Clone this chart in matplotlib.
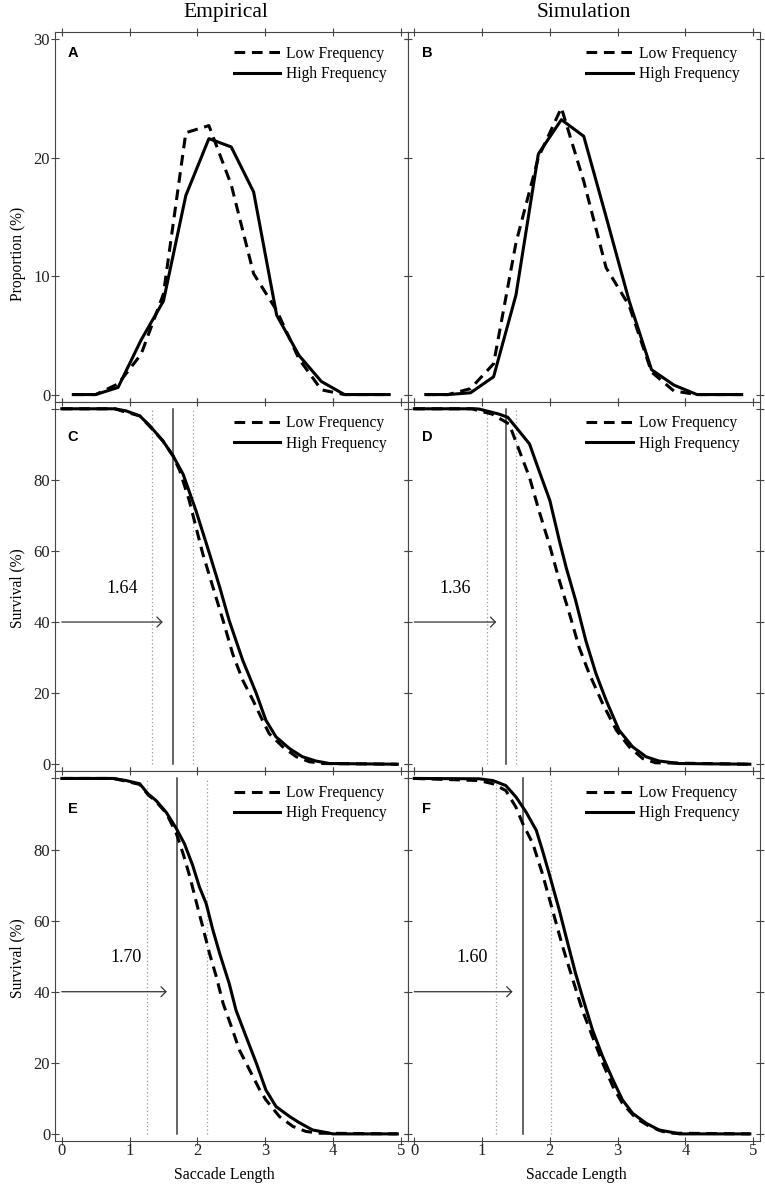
import matplotlib
matplotlib.use("Agg")
import matplotlib.pyplot as plt

plt.rcParams['font.family'] = 'Liberation Serif'

# --- distributions (panels A, B) ---
bins = [0.17, 0.5, 0.83, 1.17, 1.5, 1.83, 2.17, 2.5, 2.83, 3.17, 3.5, 3.83, 4.17, 4.5, 4.83]
emp_low = [0, 0, 0.9, 3.4, 8.5, 22.1, 22.7, 17.7, 10.2, 7.1, 3.0, 0.4, 0, 0, 0]
emp_high = [0, 0, 0.6, 4.6, 7.9, 16.8, 21.6, 20.9, 17.1, 6.7, 3.3, 1.1, 0, 0, 0]
sim_low = [0, 0, 0.5, 2.6, 12.8, 20.0, 24.2, 18.0, 10.7, 7.5, 1.9, 0.3, 0, 0, 0]
sim_high = [0, 0, 0.15, 1.5, 8.4, 20.3, 23.2, 21.8, 15.0, 7.9, 2.1, 0.8, 0, 0, 0]

# --- survival curves (panels C-F) ---
c_high_x = [0, 0.78, 0.95, 1.15, 1.30, 1.49, 1.64, 1.79, 1.98, 2.18, 2.33, 2.47, 2.67, 2.87, 3.01, 3.16, 3.36, 3.55, 3.75, 3.95, 4.95]
c_high_y = [100, 100, 99.4, 98.0, 95.2, 91.0, 86.8, 81.6, 71.3, 59.2, 49.8, 40.4, 29.2, 19.9, 12.4, 7.7, 4.4, 2.1, 0.9, 0.2, 0]
c_low_x = [0, 0.78, 0.92, 1.15, 1.30, 1.49, 1.64, 1.74, 1.88, 1.98, 2.08, 2.23, 2.38, 2.52, 2.67, 2.82, 2.96, 3.06, 3.26, 3.46, 3.65, 3.85, 4.95]
c_low_y = [100, 100, 99.2, 98.0, 95.0, 91.0, 86.8, 82.6, 74.2, 66.7, 59.2, 49.8, 40.4, 31.1, 23.6, 18.0, 12.4, 8.6, 4.9, 2.1, 0.7, 0.2, 0]

d_high_x = [0, 0.9, 0.96, 1.25, 1.38, 1.5, 1.7, 1.84, 2.0, 2.14, 2.24, 2.38, 2.53, 2.68, 2.83, 3.02, 3.22, 3.42, 3.61, 3.91, 4.95]
d_high_y = [100, 100, 99.9, 98.5, 97.6, 94.8, 90.1, 82.6, 74.2, 62.9, 55.4, 46.1, 34.8, 25.5, 18.0, 9.6, 4.9, 2.1, 0.9, 0.2, 0]
d_low_x = [0, 0.85, 0.96, 1.15, 1.4, 1.55, 1.7, 1.84, 1.99, 2.14, 2.29, 2.43, 2.58, 2.78, 2.98, 3.17, 3.37, 3.56, 4.95]
d_low_y = [100, 100, 99.4, 98.5, 95.7, 88.2, 80.7, 71.3, 62.0, 51.7, 42.3, 33.0, 25.5, 17.0, 9.6, 4.9, 1.6, 0.4, 0]

e_high_x = [0, 0.76, 0.95, 1.15, 1.27, 1.39, 1.54, 1.69, 1.81, 1.93, 2.03, 2.13, 2.23, 2.33, 2.47, 2.57, 2.72, 2.87, 3.01, 3.16, 3.36, 3.5, 3.7, 3.9, 4.0, 4.95]
e_high_y = [100, 100, 99.4, 98.5, 95.7, 93.8, 90.5, 85.9, 81.6, 75.6, 69.5, 64.8, 57.3, 50.7, 42.3, 34.8, 27.3, 19.9, 12.4, 7.7, 4.9, 3.2, 1.1, 0.4, 0, 0]
e_low_x = [0, 0.76, 0.95, 1.15, 1.27, 1.39, 1.54, 1.69, 1.79, 1.89, 1.99, 2.08, 2.18, 2.28, 2.38, 2.52, 2.62, 2.77, 2.92, 3.01, 3.21, 3.41, 3.6, 3.8, 4.95]
e_low_y = [100, 100, 99.2, 98.3, 95.5, 93.5, 90.3, 84.5, 78.8, 72.3, 64.8, 58.2, 50.7, 44.2, 36.7, 29.2, 23.6, 18.0, 12.4, 9.6, 4.9, 2.1, 0.7, 0.2, 0]

f_high_x = [0, 0.96, 1.16, 1.35, 1.5, 1.65, 1.8, 1.89, 1.99, 2.14, 2.24, 2.38, 2.48, 2.63, 2.78, 2.93, 3.07, 3.22, 3.42, 3.61, 3.81, 3.91, 4.95]
f_high_y = [100, 99.9, 99.4, 98.0, 94.8, 90.5, 85.4, 79.8, 73.2, 62.9, 55.4, 45.1, 38.6, 29.2, 21.7, 15.2, 9.6, 5.8, 3.0, 1.1, 0.4, 0, 0]
f_low_x = [0, 0.96, 1.16, 1.35, 1.5, 1.6, 1.75, 1.89, 2.04, 2.19, 2.34, 2.48, 2.63, 2.78, 2.93, 3.07, 3.27, 3.47, 3.66, 3.81, 4.95]
f_low_y = [100, 99.4, 98.5, 96.6, 91.9, 87.3, 81.6, 73.2, 62.9, 52.6, 43.3, 34.8, 27.3, 19.9, 13.3, 8.6, 4.4, 2.1, 0.7, 0.2, 0]

# divergence point and its confidence bounds per survival panel
split_point = [1.64, 1.36, 1.70, 1.60]
split_lo = [1.33, 1.07, 1.26, 1.20]
split_hi = [1.93, 1.50, 2.14, 2.01]

letters = ['A', 'B', 'C', 'D', 'E', 'F']
columns = ['Empirical', 'Simulation']

W, H = 765, 1186
fig, axs = plt.subplots(3, 2, figsize=(W / 100, H / 100), dpi=100)
fig.subplots_adjust(left=55 / W, right=760 / W, top=1 - 32 / H, bottom=1 - 1141 / H,
                    hspace=0, wspace=0)

DASH = (3.5, 2.2)
LW = 2.2
grey = '#444444'


def style(ax, row, col):
    ax.set_xlim(-0.1, 5.1)
    ax.set_xticks([0, 1, 2, 3, 4, 5])
    for s in ax.spines.values():
        s.set_color(grey)
        s.set_linewidth(0.8)
    ax.tick_params(direction='inout', length=6, width=0.8, color=grey,
                   top=True, right=True, labelsize=12, labelcolor='#222222')
    ax.tick_params(axis='x', pad=-1.5)
    ax.tick_params(axis='y', pad=0.5)
    if row < 2:
        ax.set_xticklabels([])
    else:
        ax.set_xlabel('Saccade Length', fontsize=11.4)
        ax.xaxis.set_label_coords(0.48, -0.07)
    if col == 1:
        ax.set_yticklabels([])


def legend(ax):
    ax.legend(loc='upper right', bbox_to_anchor=(0.942, 0.963), frameon=False,
              fontsize=11.2, handlelength=3.0, handletextpad=0.4,
              labelspacing=0.28, borderpad=0, borderaxespad=0)


def letter(ax, col, y, s):
    ax.text(0.036 if col == 0 else 0.042, y, s, transform=ax.transAxes,
            fontfamily='Liberation Sans', fontweight='bold', fontsize=10.5,
            ha='left', va='center')


# top row: distributions
for col, (low, high) in enumerate([(emp_low, emp_high), (sim_low, sim_high)]):
    ax = axs[0, col]
    ax.plot(bins, low, color='k', lw=LW, dashes=DASH, label='Low Frequency')
    ax.plot(bins, high, color='k', lw=LW, label='High Frequency')
    ax.set_ylim(-0.6, 30.6)
    ax.set_yticks([0, 10, 20, 30])
    style(ax, 0, col)
    legend(ax)
    letter(ax, col, 0.944, letters[col])
    if col == 0:
        ax.set_ylabel('Proportion (%)', fontsize=11.2)
        ax.yaxis.set_label_coords(-0.083, 0.40)

# survival rows
surv = [(c_low_x, c_low_y, c_high_x, c_high_y),
        (d_low_x, d_low_y, d_high_x, d_high_y),
        (e_low_x, e_low_y, e_high_x, e_high_y),
        (f_low_x, f_low_y, f_high_x, f_high_y)]
letter_y = [0.905, 0.905, 0.899, 0.899]

for i, (lx, ly, hx, hy) in enumerate(surv):
    row, col = 1 + i // 2, i % 2
    ax = axs[row, col]
    v = split_point[i]
    ax.plot([split_lo[i], split_lo[i]], [0, 100], color='#999999', lw=0.9, ls=(0, (1, 2)))
    ax.plot([split_hi[i], split_hi[i]], [0, 100], color='#999999', lw=0.9, ls=(0, (1, 2)))
    ax.plot([v, v], [0, 100], color='#3a3a3a', lw=1.1)
    ax.plot(lx, ly, color='k', lw=LW, dashes=DASH, label='Low Frequency')
    ax.plot(hx, hy, color='k', lw=LW, label='High Frequency')
    ax.annotate('', xy=(v - 0.15, 40), xytext=(0, 40),
                arrowprops=dict(arrowstyle='->, head_length=0.4, head_width=0.4',
                                color='#333333', lw=0.9, shrinkA=0, shrinkB=0,
                                mutation_scale=9))
    ax.text(v - 0.75, 49.5, '%.2f' % v, ha='center', va='center', fontsize=13)
    ax.set_ylim(-2, 102)
    ax.set_yticks([0, 20, 40, 60, 80, 100])
    ax.set_yticklabels(['0', '20', '40', '60', '80', ''])
    style(ax, row, col)
    legend(ax)
    letter(ax, col, letter_y[i], letters[2 + i])
    if col == 0:
        ax.set_ylabel('Survival (%)', fontsize=11.2)
        ax.yaxis.set_label_coords(-0.083, 0.495)

# column headings (the left one sits a little left of its panel centre)
title_x = [226 / W, 584 / W]
for col, name in enumerate(columns):
    fig.text(title_x[col], 1 - 12.5 / H, name, ha='center', va='center', fontsize=15.5)

fig.savefig('out.png', dpi=100)
